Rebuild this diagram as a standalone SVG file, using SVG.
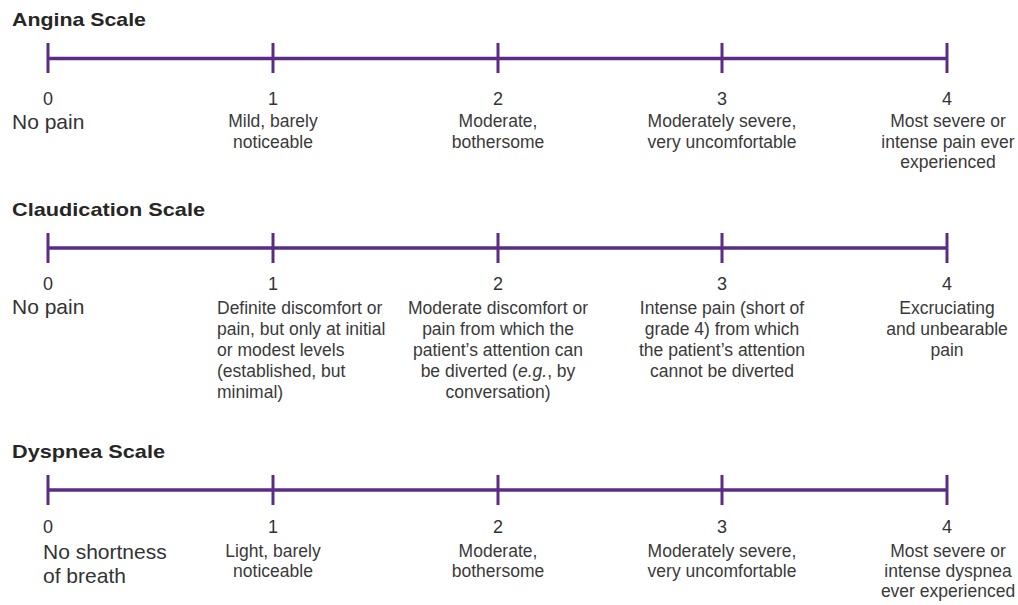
<svg xmlns="http://www.w3.org/2000/svg" width="1018" height="605" viewBox="0 0 1018 605">
<style>
  text { font-family: "Liberation Sans", Arial, Helvetica, sans-serif; }
  .title { font-size: 19px; font-weight: bold; fill: #262626; }
  .num { font-size: 18px; fill: #333333; text-anchor: middle; }
  .zero { font-size: 21px; fill: #333333; }
  .desc { font-size: 17.5px; fill: #3a3a3a; text-anchor: middle; }
  .descl { font-size: 17.5px; fill: #3a3a3a; }
  .axis { stroke: #5b2c85; stroke-width: 3.5; fill: none; }
  .tick { stroke: #5b2c85; stroke-width: 3; fill: none; }
</style>
<rect width="1018" height="605" fill="#ffffff"/>

<g id="connectors">
  <g id="angina-axis">
    <line class="axis" x1="48" y1="58.5" x2="947" y2="58.5"/>
    <line class="tick" x1="48" y1="43" x2="48" y2="73"/>
    <line class="tick" x1="273" y1="43" x2="273" y2="73"/>
    <line class="tick" x1="498" y1="43" x2="498" y2="73"/>
    <line class="tick" x1="722" y1="43" x2="722" y2="73"/>
    <line class="tick" x1="947" y1="43" x2="947" y2="73"/>
  </g>
  <g id="claudication-axis">
    <line class="axis" x1="48" y1="248" x2="947" y2="248"/>
    <line class="tick" x1="48" y1="233" x2="48" y2="263"/>
    <line class="tick" x1="273" y1="233" x2="273" y2="263"/>
    <line class="tick" x1="498" y1="233" x2="498" y2="263"/>
    <line class="tick" x1="722" y1="233" x2="722" y2="263"/>
    <line class="tick" x1="947" y1="233" x2="947" y2="263"/>
  </g>
  <g id="dyspnea-axis">
    <line class="axis" x1="48" y1="490" x2="947" y2="490"/>
    <line class="tick" x1="48" y1="475" x2="48" y2="505"/>
    <line class="tick" x1="273" y1="475" x2="273" y2="505"/>
    <line class="tick" x1="498" y1="475" x2="498" y2="505"/>
    <line class="tick" x1="722" y1="475" x2="722" y2="505"/>
    <line class="tick" x1="947" y1="475" x2="947" y2="505"/>
  </g>
</g>

<g id="angina-scale">
  <text id="angina-title" class="title" x="12" y="26" textLength="134" lengthAdjust="spacingAndGlyphs">Angina Scale</text>
  <g id="angina-0">
    <text class="num" x="48" y="105">0</text>
    <text class="zero" x="12" y="129">No pain</text>
  </g>
  <g id="angina-1">
    <text class="num" x="273" y="105">1</text>
    <text class="desc" x="273" y="127">Mild, barely<tspan x="273" dy="21">noticeable</tspan></text>
  </g>
  <g id="angina-2">
    <text class="num" x="498" y="105">2</text>
    <text class="desc" x="498" y="127">Moderate,<tspan x="498" dy="21">bothersome</tspan></text>
  </g>
  <g id="angina-3">
    <text class="num" x="722" y="105">3</text>
    <text class="desc" x="722" y="127">Moderately severe,<tspan x="722" dy="21">very uncomfortable</tspan></text>
  </g>
  <g id="angina-4">
    <text class="num" x="947" y="105">4</text>
    <text class="desc" x="948" y="127">Most severe or<tspan x="948" dy="21">intense pain ever</tspan><tspan x="948" dy="20">experienced</tspan></text>
  </g>
</g>

<g id="claudication-scale">
  <text id="claudication-title" class="title" x="12" y="216" textLength="193" lengthAdjust="spacingAndGlyphs">Claudication Scale</text>
  <g id="claudication-0">
    <text class="num" x="48" y="290">0</text>
    <text class="zero" x="12" y="314">No pain</text>
  </g>
  <g id="claudication-1">
    <text class="num" x="273" y="290">1</text>
    <text class="descl" x="217" y="314">Definite discomfort or<tspan x="217" dy="21">pain, but only at initial</tspan><tspan x="217" dy="21">or modest levels</tspan><tspan x="217" dy="21">(established, but</tspan><tspan x="217" dy="21">minimal)</tspan></text>
  </g>
  <g id="claudication-2">
    <text class="num" x="498" y="290">2</text>
    <text class="desc" x="498" y="314">Moderate discomfort or<tspan x="498" dy="21">pain from which the</tspan><tspan x="498" dy="21">patient’s attention can</tspan><tspan x="498" dy="21">be diverted (<tspan font-style="italic">e.g.</tspan>, by</tspan><tspan x="498" dy="21">conversation)</tspan></text>
  </g>
  <g id="claudication-3">
    <text class="num" x="722" y="290">3</text>
    <text class="desc" x="722" y="314">Intense pain (short of<tspan x="722" dy="21">grade 4) from which</tspan><tspan x="722" dy="21">the patient’s attention</tspan><tspan x="722" dy="21">cannot be diverted</tspan></text>
  </g>
  <g id="claudication-4">
    <text class="num" x="947" y="290">4</text>
    <text class="desc" x="947" y="314">Excruciating<tspan x="947" dy="21">and unbearable</tspan><tspan x="947" dy="21">pain</tspan></text>
  </g>
</g>

<g id="dyspnea-scale">
  <text id="dyspnea-title" class="title" x="12" y="458" textLength="153" lengthAdjust="spacingAndGlyphs">Dyspnea Scale</text>
  <g id="dyspnea-0">
    <text class="num" x="48" y="533">0</text>
    <text class="zero" x="43" y="559">No shortness<tspan x="43" dy="24">of breath</tspan></text>
  </g>
  <g id="dyspnea-1">
    <text class="num" x="273" y="533">1</text>
    <text class="desc" x="273" y="557">Light, barely<tspan x="273" dy="20">noticeable</tspan></text>
  </g>
  <g id="dyspnea-2">
    <text class="num" x="498" y="533">2</text>
    <text class="desc" x="498" y="557">Moderate,<tspan x="498" dy="20">bothersome</tspan></text>
  </g>
  <g id="dyspnea-3">
    <text class="num" x="722" y="533">3</text>
    <text class="desc" x="722" y="557">Moderately severe,<tspan x="722" dy="20">very uncomfortable</tspan></text>
  </g>
  <g id="dyspnea-4">
    <text class="num" x="947" y="533">4</text>
    <text class="desc" x="948" y="557">Most severe or<tspan x="948" dy="20">intense dyspnea</tspan><tspan x="948" dy="20">ever experienced</tspan></text>
  </g>
</g>
</svg>
